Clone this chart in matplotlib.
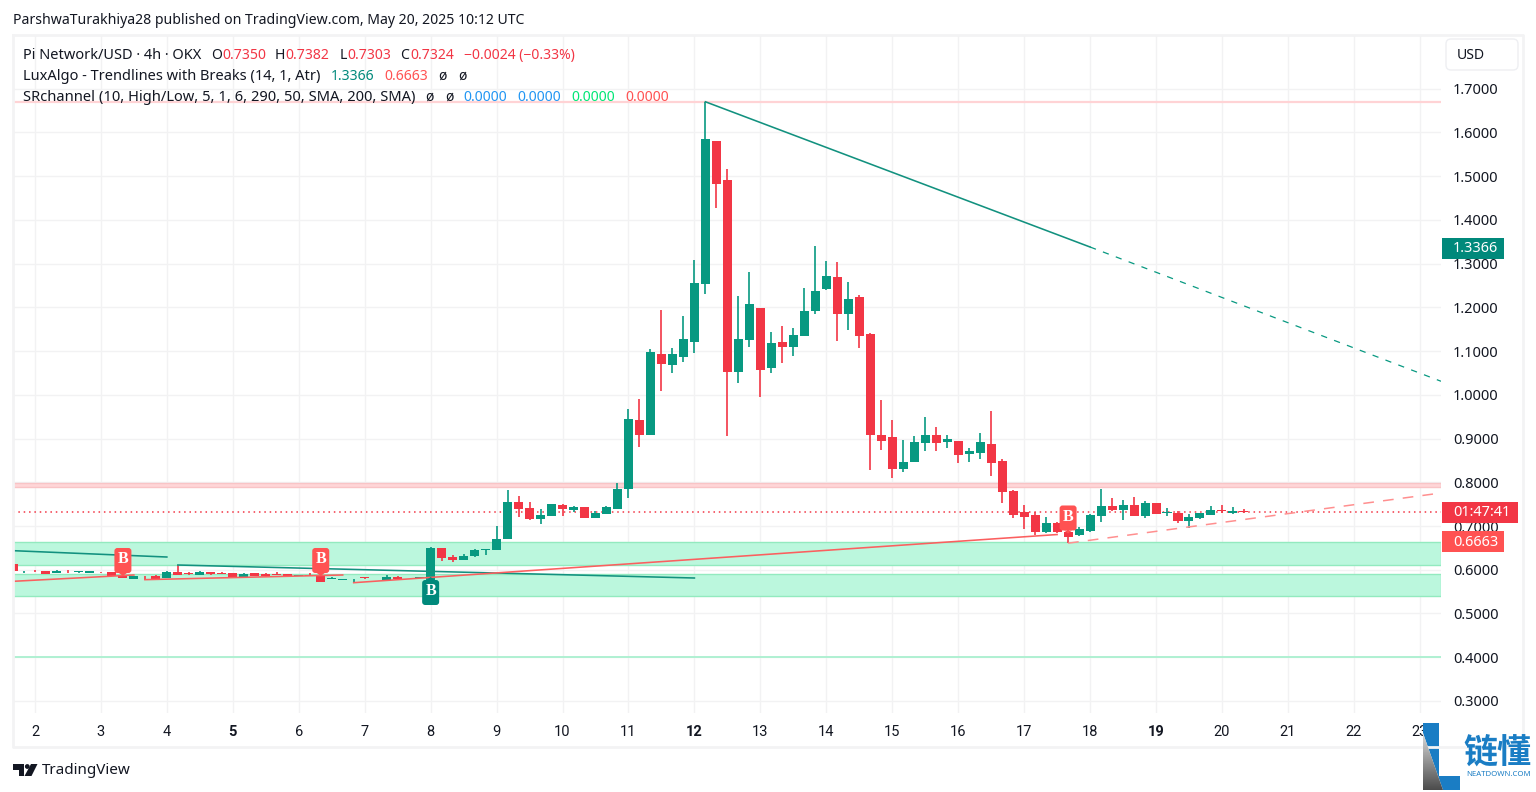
import numpy as np
import matplotlib
matplotlib.use('Agg')
import matplotlib.pyplot as plt
from matplotlib.patches import FancyBboxPatch, Polygon, Rectangle

plt.rcParams['font.family'] = ['Noto Sans', 'DejaVu Sans']

############## Data ####################

first_bar = -2  # bars are 4h, bar 0 is the 00:00 candle of day 2

opens = [.612, .596, .5975, .5979, .5935, .5975, .5945, .5925, .5955, .5955, .5865, .5795, .5865, .5865, .5820,
         .5955, .593, .5885, .5955, .5935, .5935, .584, .5935, .591, .591, .591, .5865, .589, .589, .578, .5775,
         .578, .5825, .5805, .5775, .584, .578, .582, .577, .6489, .6284, .6215, .6306, .6444, .6444, .6695,
         .7541, .7404, .7152, .7221, .7473, .7358, .7427, .7175, .7267, .7381, .7838, .9416, .9073, 1.0925,
         1.0674, 1.0863, 1.1206, 1.2532, 1.5802, 1.4910, 1.0520, 1.1251, 1.1983, 1.0611, 1.1206, 1.1091, 1.1343,
         1.1915, 1.2418, 1.2692, 1.1846, 1.2235, 1.1389, .9079, .9034, .8299, .8459, .8893, .9076, .8916, .8939,
         .8642, .8665, .887, .8482, .7796, .7316, .7247, .6858, .7064, .6871, .6802, .6893, .7236, .7465, .7373,
         .7488, .7236, .7534, .7305, .7305, .7122, .7191, .7259, .7373, .7305, .7350]
highs = [.612, .5975, .600, .598, .600, .600, .596, .598, .5955, .5955, .587, .5865, .586, .5885, .598,
         .6108, .5955, .596, .5955, .595, .5935, .5935, .5935, .5935, .5955, .591, .589, .5915, .589, .5825, .5785,
         .5795, .5825, .582, .588, .5855, .5795, .5835, .6512, .6489, .6329, .6352, .6466, .6466, .6992, .7816,
         .7678, .7541, .7381, .7495, .7495, .7450, .7427, .7335, .745, .7976, .9668, .9896, 1.1045, 1.194,
         1.1062, 1.18, 1.3081, 1.6701, 1.5802, 1.5162, 1.2258, 1.2806, 1.1983, 1.1434, 1.1572, 1.1526, 1.2441,
         1.3401, 1.3058, 1.3035, 1.2578, 1.228, 1.1411, .9880, .9422, .8962, .9053, .9488, .9259, .9076, .8939,
         .8779, .9122, .9625, .8527, .7819, .7476, .7316, .7201, .7087, .695, .6985, .7270, .7854, .7648, .7602,
         .7671, .7579, .7534, .7419, .7351, .7282, .7305, .7465, .7488, .7442, .7382]
lows = [.598, .592, .5955, .591, .593, .5925, .5915, .5925, .592, .585, .582, .5795, .577, .5795, .582,
        .5885, .588, .5885, .587, .590, .5845, .584, .586, .586, .588, .584, .5865, .5865, .5725, .578, .5755,
        .5705, .578, .5805, .5775, .578, .578, .582, .572, .6192, .6169, .6215, .6283, .6329, .6444, .6695,
        .7198, .7130, .7038, .7221, .7221, .7320, .7175, .7175, .7267, .7381, .7633, .8799, .9073, 1.0087,
        1.0491, 1.0748, 1.0954, 1.2303, 1.4270, .9056, 1.0268, 1.1091, .9948, 1.0497, 1.0726, 1.0886, 1.1343,
        1.1846, 1.2395, 1.1229, 1.1480, 1.1069, .8279, .8736, .8096, .823, .8459, .871, .871, .8779, .8436,
        .8459, .8527, .8139, .7521, .7178, .6927, .6790, .6835, .6835, .6607, .6779, .687, .7099, .7351, .7145,
        .7236, .7191, .7282, .7236, .7076, .6962, .7168, .7259, .7305, .7282, .7303]
closes = [.598, .597, .5965, .5910, .5975, .5960, .5960, .5975, .5945, .5850, .5820, .5865, .5850, .5795, .5955,
          .5885, .591, .5955, .591, .591, .5845, .591, .586, .586, .589, .5865, .589, .5865, .5725, .580, .5785,
          .5795, .5805, .582, .584, .578, .5795, .5835, .6489, .6261, .6215, .6306, .6444, .6466, .6695, .7541,
          .7381, .7152, .7244, .7495, .7381, .7427, .7175, .7290, .7427, .7838, .9439, .9073, 1.0971, 1.0697,
          1.0925, 1.1274, 1.2555, 1.5848, 1.4819, 1.0520, 1.1274, 1.2075, 1.0566, 1.1183, 1.1091, 1.1366, 1.1915,
          1.2372, 1.2715, 1.1846, 1.2189, 1.1343, .9079, .8942, .8302, .8459, .8916, .9076, .8893, .8985, .8619,
          .8710, .8916, .8436, .7773, .7247, .7201, .6858, .7064, .6858, .6756, .6939, .7259, .7465, .7373, .7488,
          .7236, .7534, .7282, .7320, .7122, .7213, .7305, .7373, .7350, .7351, .7324]

price_ticks = [0.3, 0.4, 0.5, 0.6, 0.7, 0.8, 0.9, 1.0, 1.1, 1.2, 1.3, 1.4, 1.5, 1.6, 1.7]
day_labels = [2, 3, 4, 5, 6, 7, 8, 9, 10, 11, 12, 13, 14, 15, 16, 17, 18, 19, 20, 21, 22, 23]
bold_days = [5, 12, 19]

last_price = 0.7324
sr_zone_red = (.7885, .7993)
sr_zones_green = [(.6101, .6634), (.5392, .5910)]
sr_line_red = 1.669
sr_line_green = .4

# trendlines, bar start, bar end, price start, price end
down_solid = [(-2, 12, .6436, .6291), (13, 60, .6108, .5811), (61, 96, 1.6701, 1.338)]
down_dash = (96, 127.93, 1.338, 1.031)
up_solid = [(-2, 9, .5735, .588), (10, 28, .5773, .588), (29, 93, .5704, .6805)]
up_dash = (94, 127.93, .6607, .7755)

sell_bars = [8, 26, 94]
sell_prices = [.5857, .5857, .6829]
buy_bars = [36]
buy_prices = [.5834]

############## Colours ####################

red = '#f23645'
green = '#089981'
teal = '#00897b'
coral = '#ff5252'
ink = '#131722'
grid = '#f2f2f3'
frame = '#f3f3f4'

############## Figure ####################

W, H = 1536, 792
fig = plt.figure(figsize=(W / 100, H / 100), dpi=100)
ax = fig.add_axes([13 / W, 1 - 713 / H, (1441 - 13) / W, (713 - 35) / H])

bars = np.arange(len(opens)) + first_bar
o = np.array(opens)
h = np.array(highs)
l = np.array(lows)
c = np.array(closes)
colors = [green if b >= a else red for a, b in zip(o, c)]

ax.set_xlim(-2.0, 127.93)
ax.set_ylim(.2724, 1.8228)

ax.set_axisbelow(True)
ax.grid(True, color=grid, linewidth=1)

for lo, hi in sr_zones_green:
    ax.axhspan(lo, hi, facecolor='#bbf7dd', edgecolor='#93eabf', linewidth=1, zorder=1)
ax.axhspan(*sr_zone_red, facecolor='#ffd6d8', edgecolor='#f9c4c6', linewidth=1, zorder=1)
ax.axhline(sr_line_red, color='#ffd3d5', linewidth=1.6, zorder=1)
ax.axhline(sr_line_green, color='#aff0d2', linewidth=1.4, zorder=1)

ax.axhline(last_price, color=red, linewidth=1.1, dashes=(1, 2.5), zorder=2)

ax.vlines(bars, l, h, colors=colors, linewidth=1.2, zorder=3)
ax.bar(bars, np.maximum(np.abs(c - o), .0012), bottom=np.minimum(o, c), width=.82, color=colors, linewidth=0, zorder=4)

for x0, x1, y0, y1 in down_solid:
    ax.plot([x0, x1], [y0, y1], color='#12917f', linewidth=1.15, zorder=5)
ax.plot(down_dash[:2], down_dash[2:], color=green, linewidth=.9, dashes=(5, 6), zorder=5)
for x0, x1, y0, y1 in up_solid:
    ax.plot([x0, x1], [y0, y1], color='#fb5f5f', linewidth=1.15, zorder=5)
ax.plot(up_dash[:2], up_dash[2:], color='#ff8f8f', linewidth=1.1, dashes=(7, 6), zorder=5)

# axes
for s in ax.spines.values():
    s.set_visible(False)
ax.yaxis.tick_right()
ax.set_yticks(price_ticks)
ax.set_yticklabels(['%.4f' % t for t in price_ticks], fontsize=10.5, color=ink)
ax.set_xticks([(d - 2) * 6 for d in day_labels])
ax.set_xticklabels(day_labels, fontsize=10.5, color=ink, family='Roboto')
for t, d in zip(ax.get_xticklabels(), day_labels):
    if d in bold_days:
        t.set_fontweight('bold')
ax.tick_params(axis='y', length=0, pad=8.5)
ax.tick_params(axis='x', length=0, pad=8.5)

############## Page furniture, in pixel coordinates ####################

page = fig.add_axes([0, 0, 1, 1], zorder=10)
page.set_xlim(0, W)
page.set_ylim(H, 0)
page.axis('off')
page.patch.set_alpha(0)


def put(x, y, s, color=ink, size=14, **kw):
    page.text(x, y + 1.5, s, color=color, fontsize=size * .72, va='center', **kw)


def b_label(bar, price, col, below):
    # price is where the pointer touches, the 17x25 px box sits past it
    px, py = page.transData.inverted().transform(ax.transData.transform((bar, price)))
    top = py + 3 if below else py - 28
    page.add_patch(FancyBboxPatch((px - 8.5, top), 17, 25, boxstyle='round,pad=0,rounding_size=3', fc=col, ec='none'))
    tip = [(px - 4, top), (px + 4, top), (px, top - 3)] if below else [(px - 4, top + 25), (px + 4, top + 25), (px, top + 28)]
    page.add_patch(Polygon(tip, fc=col, ec='none'))
    page.text(px, top + 11.5, 'B', color='white', fontsize=11.5, fontweight='bold', family='Liberation Serif', ha='center', va='center')


for b, p in zip(sell_bars, sell_prices):
    b_label(b, p, coral, False)
for b, p in zip(buy_bars, buy_prices):
    b_label(b, p, teal, True)

# frame
page.plot([13, 1523, 1523, 13, 13], [34.5, 34.5, 747, 747, 34.5], color=frame, linewidth=2)

put(13, 19, 'ParshwaTurakhiya28 published on TradingView.com, May 20, 2025 10:12 UTC', size=14.1)

# legend block
put(23, 54, 'Pi Network/USD · 4h · OKX', size=14.6)
for x, s in [(211, 'O'), (275, 'H'), (340, 'L'), (400, 'C')]:
    put(x, 54, s)
for x, s in [(222, '0.7350'), (285, '0.7382'), (347, '0.7303'), (410, '0.7324'), (464, '−0.0024 (−0.33%)')]:
    put(x, 54, s, color=red)
put(23, 75, 'LuxAlgo - Trendlines with Breaks (14, 1, Atr)', size=14.6)
put(331, 75, '1.3366', color=teal)
put(384, 75, '0.6663', color=coral)
put(438, 75, 'ø')
put(458, 75, 'ø')
put(23, 96, 'SRchannel (10, High/Low, 5, 1, 6, 290, 50, SMA, 200, SMA)', size=14.7)
put(425, 96, 'ø')
put(445, 96, 'ø')
for x, s, col in [(463, '0.0000', '#2196f3'), (517, '0.0000', '#2196f3'), (571, '0.0000', '#00e676'), (625, '0.0000', coral)]:
    put(x, 96, s, color=col)

# currency button
page.add_patch(FancyBboxPatch((1446, 39), 72, 31, boxstyle='round,pad=0,rounding_size=5', fc='white', ec='#eeeff2', lw=1))
put(1457, 54, 'USD')

# price tags on the scale
for y0, y1, x1, col, s in [(238, 259, 1504, teal, '1.3366'), (502, 523, 1518, red, '01:47:41'), (531, 552, 1504, coral, '0.6663')]:
    page.add_patch(Rectangle((1442, y0), x1 - 1442, y1 - y0, fc=col, ec='none'))
    put(1453, (y0 + y1) / 2 - 1, s, color='white', size=14.5)

# TradingView logo
page.add_patch(Polygon([(13, 764), (24, 764), (24, 776), (18.5, 776), (18.5, 769.5), (13, 769.5)], fc=ink, ec='none'))
page.add_patch(plt.Circle((27.3, 766.5), 2.4, fc=ink, ec='none'))
page.add_patch(Polygon([(31, 764), (37.5, 764), (31.5, 776), (24.5, 776)], fc=ink, ec='none'))
put(42, 769.5, 'TradingView', size=15.2)

# site mark
page.add_patch(Rectangle((1423, 723), 113, 69, fc='white', ec='none'))
page.add_patch(Polygon([(1423, 723), (1439, 723), (1439, 776), (1460, 776), (1460, 790), (1443, 790), (1423, 733)], fc='#1a7dc4', ec='none'))
shade = page.imshow(np.linspace(.85, .3, 60).reshape(-1, 1), cmap='gray', vmin=0, vmax=1, aspect='auto',
                    extent=(1423, 1444, 790, 733), zorder=3)
shade.set_clip_path(Polygon([(1423, 733), (1443, 790), (1423, 790)], transform=page.transData))
page.set_xlim(0, W)
page.set_ylim(H, 0)
page.text(1497, 752, '链懂', color='#1a7dc4', fontsize=24.5, fontweight='bold', family=['Noto Sans CJK SC', 'DejaVu Sans'],
          ha='center', va='center')
page.text(1498.5, 775, 'NEATDOWN.COM', color='#1a7dc4', fontsize=5.6, fontweight='bold', ha='center', va='center')

fig.savefig('out.png', dpi=100)
